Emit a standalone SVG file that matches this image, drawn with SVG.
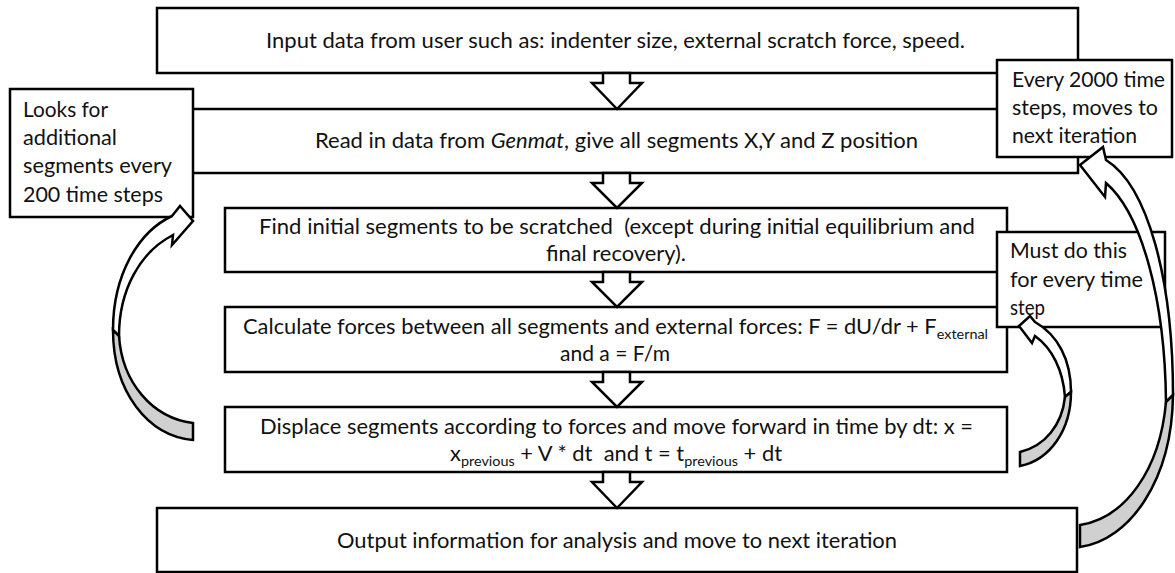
<svg xmlns="http://www.w3.org/2000/svg" width="1175" height="573" viewBox="0 0 1175 573">
<style>
.box{fill:#fff;stroke:#000;stroke-width:2.5}
.t{font-family:Lato,"Open Sans","Liberation Sans",sans-serif;font-size:20.5px;fill:#111;white-space:pre}
.sub{font-size:13.5px}
.blk{fill:#fff;stroke:#000;stroke-width:2.5;stroke-linejoin:miter}
.crv{fill:#fff;stroke:#000;stroke-width:2.5;stroke-linejoin:miter}
.grey{fill:#d0d0d0;stroke:#000;stroke-width:2.5;stroke-linejoin:miter}
</style>
<rect width="1175" height="573" fill="#fff"/>
<g id="input">
<rect class="box" x="157" y="8" width="921" height="65"/>
<text class="t" x="266" y="48" textLength="699" lengthAdjust="spacingAndGlyphs">Input data from user such as: indenter size, external scratch force, speed.</text>
</g>
<g id="read">
<rect class="box" x="157" y="109" width="921" height="64"/>
<text class="t" x="315" y="148" textLength="603" lengthAdjust="spacingAndGlyphs">Read in data from <tspan font-style="italic">Genmat</tspan>, give all segments X,Y and Z position</text>
</g>
<g id="find">
<rect class="box" x="225" y="208" width="782" height="64"/>
<text class="t" x="259" y="234" textLength="716" lengthAdjust="spacingAndGlyphs">Find initial segments to be scratched  (except during initial equilibrium and</text>
<text class="t" x="546" y="261" textLength="140" lengthAdjust="spacingAndGlyphs">final recovery).</text>
</g>
<g id="calc">
<rect class="box" x="225" y="307" width="782" height="65"/>
<text class="t" x="243" y="334" textLength="745" lengthAdjust="spacingAndGlyphs">Calculate forces between all segments and external forces: F = dU/dr + F<tspan class="sub" dy="5">external</tspan></text>
<text class="t" x="560" y="361" textLength="110" lengthAdjust="spacingAndGlyphs">and a = F/m</text>
</g>
<g id="displace">
<rect class="box" x="225" y="407" width="782" height="65"/>
<text class="t" x="260" y="434" textLength="713" lengthAdjust="spacingAndGlyphs">Displace segments according to forces and move forward in time by dt: x =</text>
<text class="t" x="450" y="461" textLength="332" lengthAdjust="spacingAndGlyphs">x<tspan class="sub" dy="5">previous</tspan><tspan dy="-5"> + V * dt  and t = t</tspan><tspan class="sub" dy="5">previous</tspan><tspan dy="-5"> + dt</tspan></text>
</g>
<g id="output">
<rect class="box" x="157" y="508" width="920" height="64"/>
<text class="t" x="337" y="548" textLength="560" lengthAdjust="spacingAndGlyphs">Output information for analysis and move to next iteration</text>
</g>
<g id="note-looks">
<rect class="box" x="10" y="89" width="183" height="128"/>
<text class="t" x="23" y="117" textLength="85" lengthAdjust="spacingAndGlyphs">Looks for</text>
<text class="t" x="23" y="145" textLength="94" lengthAdjust="spacingAndGlyphs">additional</text>
<text class="t" x="23" y="173" textLength="149" lengthAdjust="spacingAndGlyphs">segments every</text>
<text class="t" x="23" y="202" textLength="140" lengthAdjust="spacingAndGlyphs">200 time steps</text>
</g>
<g id="note-every">
<rect class="box" x="997" y="60" width="175" height="97"/>
<text class="t" x="1012" y="87" textLength="153" lengthAdjust="spacingAndGlyphs">Every 2000 time</text>
<text class="t" x="1012" y="115" textLength="146" lengthAdjust="spacingAndGlyphs">steps, moves to</text>
<text class="t" x="1012" y="143" textLength="125" lengthAdjust="spacingAndGlyphs">next iteration</text>
</g>
<g id="note-must">
<rect class="box" x="997" y="232" width="168" height="95"/>
<text class="t" x="1010" y="258" textLength="117" lengthAdjust="spacingAndGlyphs">Must do this</text>
<text class="t" x="1010" y="287" textLength="133" lengthAdjust="spacingAndGlyphs">for every time</text>
<text class="t" x="1010" y="315" textLength="35" lengthAdjust="spacingAndGlyphs">step</text>
</g>
<g id="connectors">
<polygon class="blk" points="603,73 603,83 592,83 617,109 642,83 630,83 630,73"/>
<polygon class="blk" points="603,173 603,183 592,183 617,208 642,183 630,183 630,173"/>
<polygon class="blk" points="603,272 603,282 592,282 617,307 642,282 630,282 630,272"/>
<polygon class="blk" points="603,372 603,382 592,382 617,407 642,382 630,382 630,372"/>
<polygon class="blk" points="603,472 603,482 592,482 617,508 642,482 630,482 630,472"/>
<path class="crv" d="M173,235 L172,245 L193,221 L180,206 L172,216 C138,232 113,275 113,330 L119,336 C119,290 140,252 173,235 Z"/>
<path class="grey" d="M113,330 C113,392 148,436 193,440 L193,423 C152,418 122,382 119,336 Z"/>
<path class="crv" d="M1106,183 L1105,197 L1080,165 L1103,147 L1106,160 C1148,186 1173,280 1173,395 L1166,402 C1165,300 1142,214 1106,183 Z"/>
<path class="grey" d="M1173,395 C1172,480 1130,540 1080,547 L1080,525 C1125,518 1160,470 1166,402 Z"/>
<path class="crv" d="M1035,336 L1032,343 L1019,326 L1030,316 L1035,322 C1058,335 1071,360 1071,392 L1065,397 C1063,370 1052,348 1035,336 Z"/>
<path class="grey" d="M1071,392 C1071,430 1050,460 1020,466 L1020,452 C1045,446 1062,425 1065,397 Z"/>
</g>
</svg>
